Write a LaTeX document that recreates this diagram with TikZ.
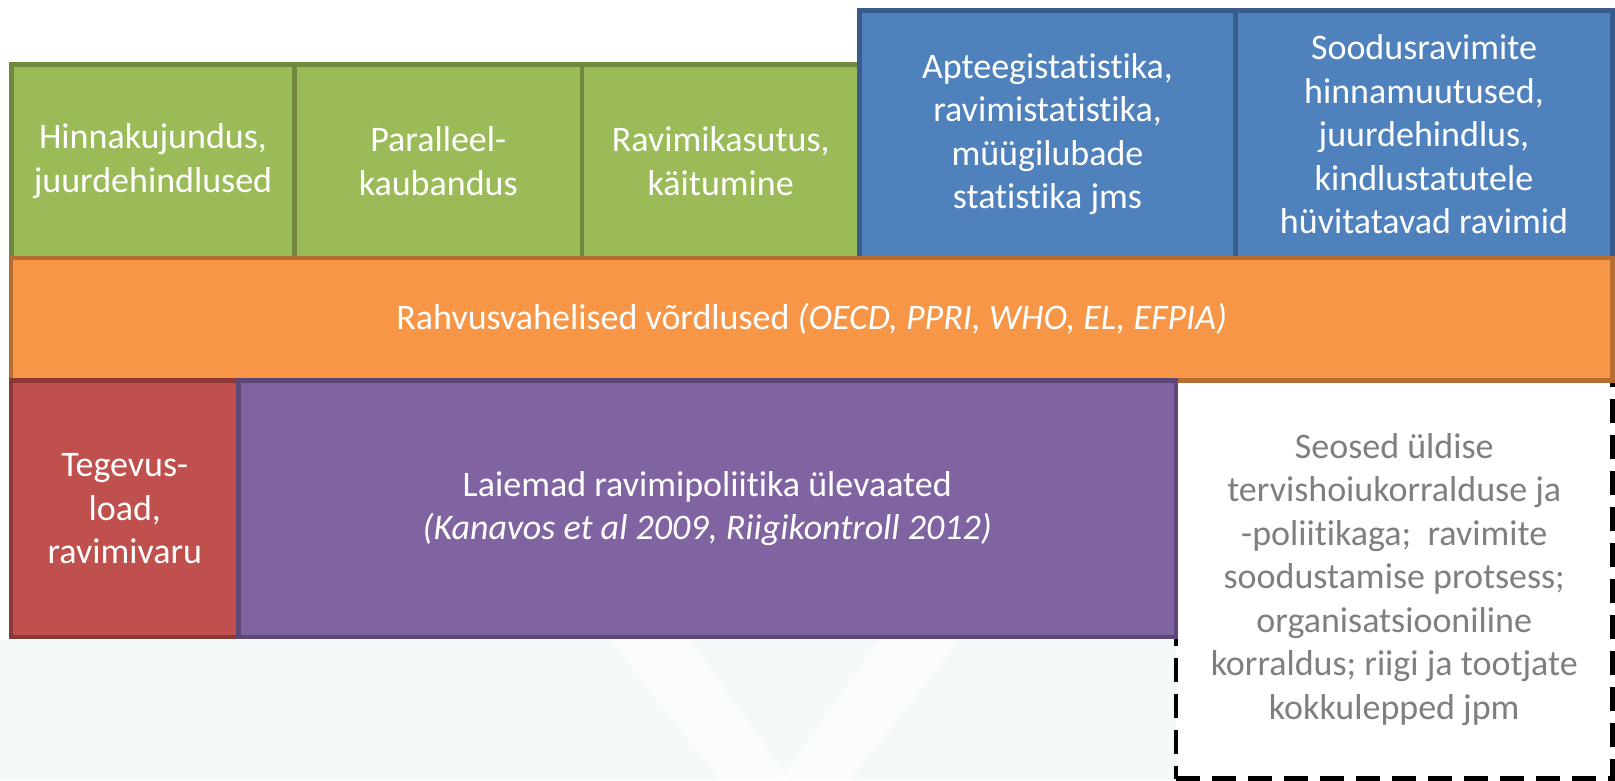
\documentclass[tikz,border=0pt]{standalone}
\usepackage{fontspec}
\setmainfont{Carlito}[RawFeature={-liga;-clig;-calt;-dlig}]
\definecolor{greenfill}{HTML}{9BBB59}
\definecolor{greenline}{HTML}{71893F}
\definecolor{bluefill}{HTML}{4F81BD}
\definecolor{blueline}{HTML}{385D8A}
\definecolor{orangefill}{HTML}{F79646}
\definecolor{orangeline}{HTML}{B66D31}
\definecolor{redfill}{HTML}{C0504D}
\definecolor{redline}{HTML}{8C3836}
\definecolor{purplefill}{HTML}{8064A2}
\definecolor{purpleline}{HTML}{5C4776}
\definecolor{notetext}{HTML}{7F7F7F}
\definecolor{bgtint}{HTML}{F4F9F9}
\tikzset{
  cell/.style={rectangle, line width=4.5pt, inner sep=0pt, align=center,
    text=white, font=\fontsize{36}{43.5}\selectfont},
  greencell/.style={cell, fill=greenfill, draw=greenline},
  bluecell/.style={cell, fill=bluefill, draw=blueline},
  orangecell/.style={cell, fill=orangefill, draw=orangeline},
  redcell/.style={cell, fill=redfill, draw=redline},
  purplecell/.style={cell, fill=purplefill, draw=purpleline},
  notecell/.style={cell, fill=white, draw=black, text=notetext,
    dash pattern=on 24pt off 12pt},
}
\begin{document}
\begin{tikzpicture}[x=1pt, y=-1pt]
  % page background with the faint template tint
  \useasboundingbox (0,0) rectangle (1615,780);
  \fill[white] (0,0) rectangle (1615,780);
  \fill[bgtint] (0,640) rectangle (1180,780);
  \fill[white, opacity=0.7] (610,640) -- (690,640) -- (790,780) -- (720,780) -- cycle;
  \fill[white, opacity=0.7] (880,640) -- (960,640) -- (850,780) -- (780,780) -- cycle;

  % top row: green topics
  \node[greencell, minimum width=283pt, minimum height=193.5pt] (hinna) at (153,161.25)
    {Hinnakujundus,\\juurdehindlused};
  \node[greencell, minimum width=287.5pt, minimum height=193.5pt] (paral) at (438.25,161.25)
    {Paralleel-\\kaubandus};
  \node[greencell, minimum width=277.5pt, minimum height=193.5pt] (kasut) at (720.75,161.25)
    {Ravimikasutus,\\käitumine};

  % top row: blue topics
  \node[bluecell, minimum width=376pt, minimum height=247.5pt] (aptee) at (1047.5,134.25)
    {Apteegistatistika,\\ravimistatistika,\\müügilubade\\statistika jms};
  \node[bluecell, minimum width=377pt, minimum height=247.5pt] (sood) at (1424,134.25)
    {Soodusravimite\\hinnamuutused,\\juurdehindlus,\\kindlustatutele\\hüvitatavad ravimid};

  % dashed note box (drawn first so the bars above cover its edges)
  \node[notecell, minimum width=436.5pt, minimum height=398pt] (seosed) at (1394.25,579.5)
    {Seosed üldise\\tervishoiukorralduse ja\\-poliitikaga;\ \ ravimite\\soodustamise protsess;\\organisatsiooniline\\korraldus; riigi ja tootjate\\kokkulepped jpm};

  % middle bar
  \node[orangecell, minimum width=1601.5pt, minimum height=122.5pt] (rahv) at (811.75,319.25)
    {Rahvusvahelised võrdlused \textit{(OECD, PPRI, WHO, EL, EFPIA)}};

  % bottom row
  \node[redcell, minimum width=227.5pt, minimum height=256.5pt] (tege) at (124.75,508.75)
    {Tegevus-\\load,\\ravimivaru};
  \node[purplecell, minimum width=937.5pt, minimum height=256.5pt] (laie) at (707.25,508.75)
    {Laiemad ravimipoliitika ülevaated\\\textit{(Kanavos et al 2009, Riigikontroll 2012)}};
\end{tikzpicture}
\end{document}
